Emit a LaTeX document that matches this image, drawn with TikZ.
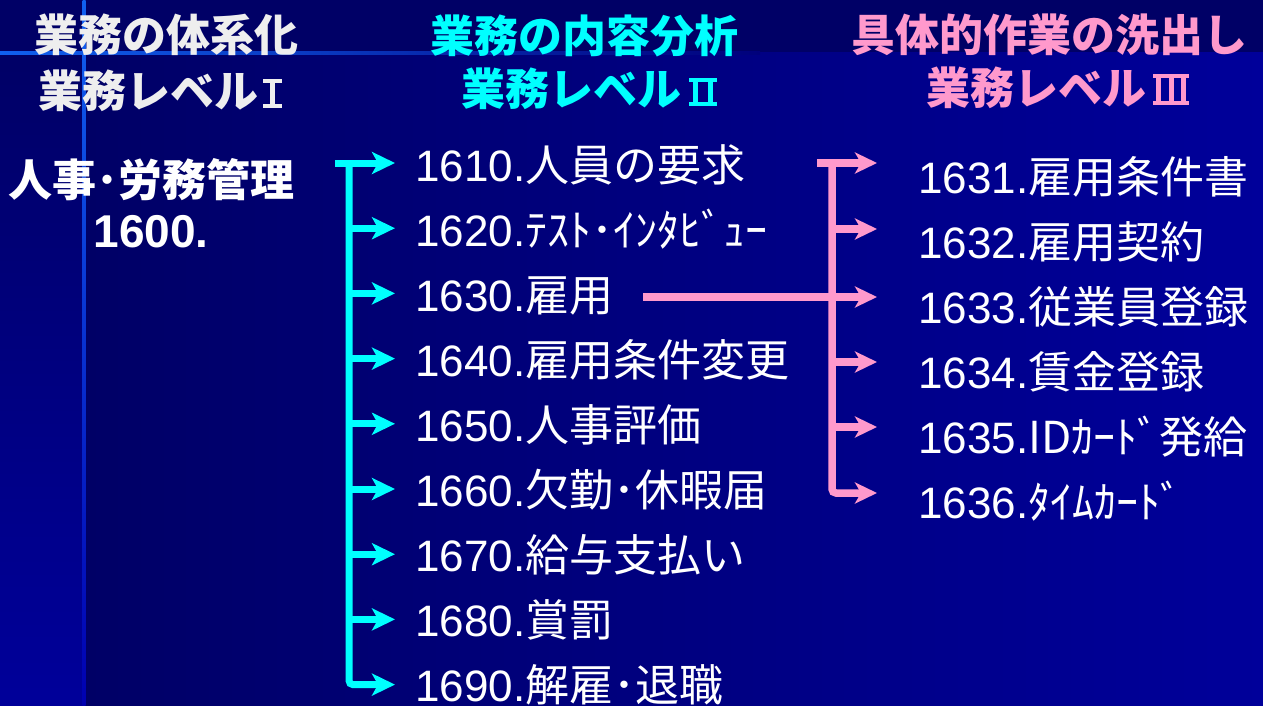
\documentclass[tikz,border=0pt]{standalone}
\usepackage{fontspec}
\setmainfont{Liberation Sans}
\newfontfamily\cjk{Noto Sans CJK JP}
\usetikzlibrary{arrows.meta,calc}
\definecolor{navy}{HTML}{000066}
\definecolor{bgright}{HTML}{00009A}
\definecolor{cyanc}{HTML}{00FFFF}
\definecolor{pinkc}{HTML}{FF99CC}
\definecolor{hdrwhite}{HTML}{EEEEEE}
\definecolor{lineblue}{HTML}{1060F0}
\definecolor{linefade}{HTML}{0000B0}
\newcommand\mklabel[2]{#1{\cjk #2}}
% Roman numerals drawn with bars (top and bottom) as in the reference
\newcommand\rnI{\kern5pt\vbox{\hrule height 4pt width 19pt\hbox to 19pt{\hfil\vrule width 5pt height 21pt\hfil}\hrule height 4pt width 19pt}}
\newcommand\rnII{\kern8pt\vbox{\hrule height 4pt width 28pt\hbox to 28pt{\kern4pt\vrule width 5pt height 20pt\hfil\vrule width 5pt height 20pt\kern4pt}\hrule height 4pt width 28pt}}
\newcommand\rnIII{\kern7pt\vbox{\hrule height 4pt width 36pt\hbox to 36pt{\kern3pt\vrule width 5pt height 23pt\hfil\vrule width 5pt height 23pt\hfil\vrule width 5pt height 23pt\kern3pt}\hrule height 4pt width 36pt}}
\tikzset{
  hdr/.style={anchor=base west, inner sep=0pt, font=\cjk\bfseries\fontsize{44}{44}\selectfont},
  itemtext/.style={anchor=base west, inner sep=0pt, text=white, font=\fontsize{44}{44}\selectfont},
  carr/.style={draw=cyanc, line width=7pt, -{Stealth[length=23pt, width=22pt, inset=6pt]}},
  parr/.style={draw=pinkc, line width=7.5pt, -{Stealth[length=22pt, width=21pt, inset=6pt]}}
}
\begin{document}
\begin{tikzpicture}[x=1pt,y=-1pt]
\useasboundingbox (0,0) rectangle (1263,706);
% background
\fill[navy] (0,0) rectangle (1263,706);
\shade[left color=navy, right color=bgright] (84,53) rectangle (1263,706);
\shade[top color=navy, bottom color=bgright] (0,53) rectangle (84,706);
\shade[top color=lineblue, bottom color=linefade] (82.5,0) rectangle (85.5,706);
\shade[left color=lineblue, right color=navy!60!bgright] (0,51.5) rectangle (760,54.5);
% headers
\node[hdr, text=hdrwhite] (h1a) at (34,52) {業務の体系化};
\node[hdr, text=hdrwhite] (h1b) at (38,108) {業務レベル\rnI};
\node[hdr, text=cyanc] (h2a) at (430,53) {業務の内容分析};
\node[hdr, text=cyanc] (h2b) at (461,106) {業務レベル\rnII};
\node[hdr, text=pinkc] (h3a) at (851,52) {具体的作業の洗出し};
\node[hdr, text=pinkc] (h3b) at (926,105) {業務レベル\rnIII};
% level I
\node[anchor=base, inner sep=0pt, text=white, font=\cjk\bfseries\fontsize{44}{44}\selectfont] (top) at (152,196) {人事･労務管理};
\node[anchor=base, inner sep=0pt, text=white, font=\bfseries\fontsize{46}{46}\selectfont] (code) at (151,247) {1600.};
% level II items
\foreach \k/\n/\t in {0/1610/人員の要求, 1/1620/ﾃｽﾄ･ｲﾝﾀﾋﾞｭｰ, 2/1630/雇用, 3/1640/雇用条件変更, 4/1650/人事評価, 5/1660/欠勤･休暇届, 6/1670/給与支払い, 7/1680/賞罰, 8/1690/解雇･退職}{
  \node[itemtext] (i\k) at (415,181+65*\k) {\mklabel{\n.}{\t}};
  \coordinate (ca\k) at (395,163+65.2*\k);
}
\coordinate (ctop) at (349,163);
\coordinate (cbot) at (349,163+65.2*8);
\draw[carr] (335,163) -- (ca0);
\foreach \k in {1,...,7}{ \draw[carr] (ctop |- ca\k) -- (ca\k); }
\draw[carr, rounded corners=4pt] (ctop) -- (cbot) -- (ca8);
% level III items
\foreach \k/\n/\t/\y in {1/1631/雇用条件書/163, 2/1632/雇用契約/229, 3/1633/従業員登録/297, 4/1634/賃金登録/362, 5/1635/{IDｶｰﾄﾞ発給}/427, 6/1636/ﾀｲﾑｶｰﾄﾞ/493}{
  \node[itemtext] (j\k) at (918,193+65*\k-65) {\mklabel{\n.}{\t}};
  \coordinate (pa\k) at (877,\y);
}
\coordinate (ptop) at (832,163);
\coordinate (pbot) at (832,493);
\coordinate (pstart) at (i2.base east -| 643,0);
\draw[parr] (817,163) -- (pa1);
\foreach \k in {2,4,5}{ \draw[parr] (ptop |- pa\k) -- (pa\k); }
\draw[parr, rounded corners=4pt] (ptop) -- (pbot) -- (pa6);
\draw[parr] (pa3 -| pstart) -- (pa3);
\end{tikzpicture}
\end{document}
